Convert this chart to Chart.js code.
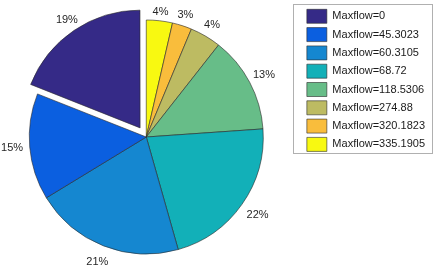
<!DOCTYPE html>
<html>
<head>
<meta charset="utf-8">
<script src="https://cdn.jsdelivr.net/npm/chart.js@4/dist/chart.umd.min.js"></script>
<style>
  html, body { margin: 0; padding: 0; background: #fff; overflow: hidden; }
  #wrap { position: relative; width: 438px; height: 267px; overflow: hidden; }
  /* canvas a bit bigger and pulled left so the pie sits where matlab put it */
  #myChart { position: absolute; left: -10px; top: 0; }
</style>
</head>
<body>
<div id="wrap"><canvas id="myChart" width="448" height="269"></canvas></div>
<script>
// data (share of each maxflow value)
var labels = ["Maxflow=0", "Maxflow=45.3023", "Maxflow=60.3105", "Maxflow=68.72",
              "Maxflow=118.5306", "Maxflow=274.88", "Maxflow=320.1823", "Maxflow=335.1905"];
var shares = [19.0, 14.7, 20.7, 21.7, 13.3, 4.3, 2.7, 3.6];
var colors = ["#352a87", "#0b5fe0", "#1587d0", "#12b0b8", "#67bd88", "#bdbb62", "#f9bd3c", "#f8f911"];
var explodedLabel = "Maxflow=0";

const explodeShift = 11; // px the pulled out slice moves

// matlab goes counter clockwise, chart.js clockwise -> reverse for the dataset
var revLabels = labels.slice().reverse();
var revShares = shares.slice().reverse();
var revColors = colors.slice().reverse();

var total = shares.reduce(function (a, b) { return a + b; }, 0);

// percent labels outside the pie
const pctLabels = {
  id: "pctLabels",
  afterDatasetsDraw(chart) {
    const ctx = chart.ctx;
    const meta = chart.getDatasetMeta(0);
    ctx.save();
    ctx.font = "11px 'Liberation Sans', Arial, sans-serif";
    ctx.fillStyle = "#262626";
    ctx.textAlign = "center";
    ctx.textBaseline = "middle";
    meta.data.forEach(function (arc, i) {
      const mid = (arc.startAngle + arc.endAngle) / 2;
      const dx = Math.cos(mid), dy = Math.sin(mid);
      const shift = revLabels[i] === explodedLabel ? explodeShift : 0;
      // text sits a bit further out at the sides and below, like matlab does it
      const r = arc.outerRadius * 1.07 + 9 * Math.abs(dx) + 6 * Math.max(dy, 0) + shift;
      ctx.fillText(Math.round(revShares[i] / total * 100) + "%", arc.x + dx * r, arc.y + dy * r);
    });
    ctx.restore();
  }
};

// box round the legend
const legendBox = {
  id: "legendBox",
  afterDraw(chart) {
    const boxes = chart.legend.legendHitBoxes;
    if (!boxes || !boxes.length) return;
    const ctx = chart.ctx;
    const first = boxes[0];
    ctx.save();
    ctx.strokeStyle = "#b0b0b0";
    ctx.lineWidth = 1;
    ctx.strokeRect(Math.round(first.left - 14) + 0.5, Math.round(first.top - 5) + 0.5, 139, 149);
    ctx.restore();
  }
};

const ctx = document.getElementById("myChart");
new Chart(ctx, {
  type: "pie",
  data: {
    labels: revLabels,
    datasets: [
      {
        data: revShares,
        backgroundColor: revColors,
        borderColor: "#2a2a2a",
        borderWidth: 0.6,
        // chart.js moves an arc by offset / 4
        offset: function (c) { return revLabels[c.dataIndex] === explodedLabel ? explodeShift * 4 : 0; },
        radius: 117,
      },
    ],
  },
  options: {
    responsive: false,
    animation: false,
    events: [],
    layout: {
      padding: { left: 0, right: 3, top: 5, bottom: 0 },
    },
    plugins: {
      tooltip: { enabled: false },
      legend: {
        position: "right",
        align: "start",
        reverse: true,
        labels: {
          boxWidth: 20,
          boxHeight: 14,
          padding: 4.3,
          color: "#1a1a1a",
          font: { family: "'Liberation Sans', Arial, sans-serif", size: 11 },
        },
      },
    },
  },
  plugins: [pctLabels, legendBox],
});
</script>
</body>
</html>
